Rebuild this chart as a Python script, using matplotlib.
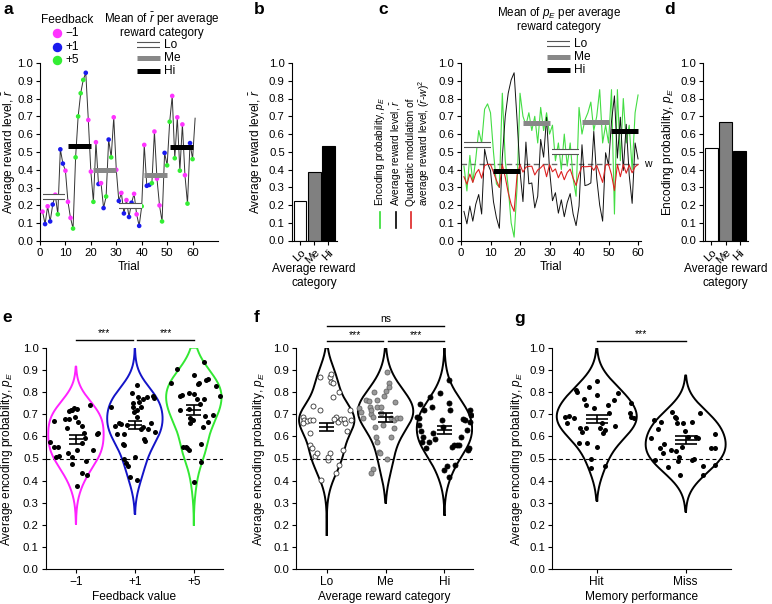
import numpy as np
import matplotlib
matplotlib.use('Agg')
import matplotlib.pyplot as plt
from matplotlib.lines import Line2D

plt.rcParams['font.family'] = ['Liberation Sans', 'DejaVu Sans']
plt.rcParams['mathtext.fontset'] = 'custom'
plt.rcParams['mathtext.rm'] = 'Liberation Sans'
plt.rcParams['mathtext.it'] = 'Liberation Sans:italic'
plt.rcParams['axes.unicode_minus'] = True

# ---------------- data ----------------
trials = list(range(1, 61))
reward_level = [0.165, 0.095, 0.195, 0.11, 0.205, 0.26, 0.15, 0.515, 0.435, 0.395,
                0.22, 0.13, 0.07, 0.47, 0.70, 0.83, 0.905, 0.945, 0.68, 0.39,
                0.22, 0.555, 0.32, 0.325, 0.185, 0.25, 0.57, 0.47, 0.695, 0.40,
                0.225, 0.27, 0.155, 0.23, 0.135, 0.215, 0.265, 0.15, 0.085, 0.195,
                0.54, 0.31, 0.315, 0.325, 0.615, 0.35, 0.20, 0.11, 0.495, 0.425,
                0.67, 0.815, 0.465, 0.695, 0.395, 0.655, 0.37, 0.21, 0.55, 0.46]
reward_tail = 0.69
feedback = [-1, 1, -1, 1, 1, -1, 5, 1, 1, -1,
            -1, -1, 5, 5, 5, 5, 5, 1, -1, -1,
            5, -1, 1, -1, 1, 5, 1, 5, -1, -1,
            1, -1, 1, -1, 1, 1, -1, -1, 1, 5,
            -1, 1, 1, 5, -1, -1, -1, 5, 1, 5,
            5, -1, 5, -1, 5, -1, -1, 5, 1, 5]
encoding_prob = [0.42, 0.28, 0.48, 0.33, 0.46, 0.62, 0.55, 0.74, 0.77, 0.72,
                 0.50, 0.32, 0.30, 0.83, 0.45, 0.30, 0.10, 0.02, 0.30, 0.83,
                 0.70, 0.65, 0.72, 0.62, 0.70, 0.55, 0.75, 0.62, 0.72, 0.60,
                 0.65, 0.45, 0.55, 0.40, 0.60, 0.42, 0.55, 0.35, 0.25, 0.75,
                 0.60, 0.68, 0.72, 0.78, 0.62, 0.70, 0.85, 0.55, 0.65, 0.55,
                 0.85, 0.15, 0.85, 0.45, 0.80, 0.55, 0.65, 0.40, 0.72, 0.82]
quad_mod = [0.360, 0.318, 0.375, 0.328, 0.379, 0.401, 0.352, 0.423, 0.430, 0.429,
            0.386, 0.340, 0.300, 0.428, 0.357, 0.270, 0.204, 0.165, 0.368, 0.428,
            0.386, 0.414, 0.418, 0.419, 0.370, 0.398, 0.410, 0.428, 0.360, 0.429,
            0.388, 0.404, 0.354, 0.390, 0.343, 0.384, 0.403, 0.352, 0.311, 0.375,
            0.418, 0.416, 0.417, 0.419, 0.396, 0.424, 0.377, 0.328, 0.426, 0.430,
            0.372, 0.282, 0.429, 0.360, 0.429, 0.380, 0.426, 0.382, 0.416, 0.429]
w_level = 0.43

block_cat = ['Lo', 'Hi', 'Me', 'Lo', 'Me', 'Hi']
block_start = [1, 11, 21, 31, 41, 51]
block_end = [10, 20, 30, 40, 50, 60]
block_mean_r = [0.25, 0.535, 0.40, 0.195, 0.37, 0.53]
block_mean_pe = [0.54, 0.39, 0.66, 0.50, 0.67, 0.62]

categories = ['Lo', 'Me', 'Hi']
mean_r_cat = [0.225, 0.385, 0.535]
mean_pe_cat = [0.52, 0.665, 0.505]

fb_labels = ['\u22121', '+1', '+5']
e_vals = [
    [0.576, 0.671, 0.550, 0.553, 0.508, 0.513, 0.678, 0.636, 0.678, 0.714, 0.719, 0.726,
     0.725, 0.689, 0.666, 0.648, 0.617, 0.592, 0.526, 0.508, 0.475, 0.538, 0.571, 0.490,
     0.436, 0.427, 0.377, 0.741, 0.538, 0.611, 0.614, 0.719],
    [0.734, 0.648, 0.611, 0.662, 0.654, 0.611, 0.565, 0.559, 0.500, 0.478, 0.466, 0.651,
     0.418, 0.752, 0.794, 0.734, 0.711, 0.505, 0.403, 0.832, 0.719, 0.686, 0.776, 0.756,
     0.731, 0.770, 0.776, 0.641, 0.633, 0.586, 0.579, 0.659, 0.782, 0.773, 0.621, 0.633],
    [0.842, 0.905, 0.719, 0.782, 0.786, 0.550, 0.553, 0.546, 0.538, 0.794, 0.722, 0.681,
     0.662, 0.674, 0.395, 0.791, 0.875, 0.767, 0.836, 0.842, 0.746, 0.564, 0.484, 0.644,
     0.767, 0.854, 0.857, 0.666, 0.937, 0.696, 0.827, 0.783, 0.692]]
e_jitter = [
    [-0.44, -0.37, -0.37, -0.30, -0.33, -0.28, -0.18, -0.15, -0.12, -0.11, -0.08, -0.03,
     0.01, -0.02, 0.04, 0.11, 0.14, 0.16, -0.13, -0.07, -0.06, 0.02, 0.10, 0.17,
     0.10, 0.19, 0.01, 0.24, 0.29, 0.35, 0.38, -0.06],
    [-0.40, -0.33, -0.31, -0.27, -0.23, -0.19, -0.20, -0.18, -0.19, -0.15, -0.11, -0.14,
     -0.08, -0.04, -0.05, -0.03, -0.02, 0.00, 0.03, 0.03, 0.04, 0.03, 0.06, 0.07,
     0.11, 0.14, 0.20, 0.14, 0.11, 0.16, 0.18, 0.27, 0.30, 0.32, 0.34, 0.22],
    [-0.38, -0.28, -0.24, -0.23, -0.20, -0.19, -0.14, -0.12, -0.08, -0.08, -0.08, -0.07,
     -0.06, -0.01, 0.00, 0.00, 0.01, 0.05, 0.07, 0.09, 0.10, 0.12, 0.13, 0.15,
     0.17, 0.21, 0.24, 0.24, 0.17, 0.33, 0.38, 0.44, 0.19]]
e_mean = [0.586, 0.651, 0.719]
e_sem = [0.019, 0.019, 0.023]
e_range = [(0.205, 0.915), (0.25, 1.0), (0.20, 1.0)]

f_vals = [
    [0.689, 0.674, 0.671, 0.674, 0.674, 0.659, 0.617, 0.561, 0.546, 0.737, 0.511, 0.523,
     0.719, 0.869, 0.403, 0.869, 0.847, 0.881, 0.839, 0.776, 0.800, 0.689, 0.666, 0.678,
     0.677, 0.677, 0.662, 0.626, 0.538, 0.471, 0.433, 0.493, 0.508, 0.523, 0.719, 0.674],
    [0.726, 0.711, 0.681, 0.764, 0.761, 0.734, 0.700, 0.718, 0.689, 0.800, 0.764, 0.734,
     0.644, 0.598, 0.576, 0.531, 0.523, 0.451, 0.436, 0.734, 0.782, 0.806, 0.842, 0.892,
     0.821, 0.500, 0.681, 0.674, 0.681, 0.681, 0.598, 0.636, 0.756, 0.651, 0.706],
    [0.689, 0.684, 0.651, 0.744, 0.626, 0.576, 0.598, 0.719, 0.546, 0.576, 0.776, 0.734,
     0.614, 0.586, 0.794, 0.674, 0.644, 0.448, 0.466, 0.418, 0.854, 0.749, 0.553, 0.559,
     0.471, 0.559, 0.559, 0.598, 0.677, 0.674, 0.629, 0.538, 0.546, 0.666, 0.719, 0.698, 0.719]]
f_jitter = [
    [-0.41, -0.38, -0.34, -0.28, -0.23, -0.41, -0.29, -0.29, -0.25, -0.24, -0.20, -0.16,
     -0.12, -0.12, -0.10, 0.05, 0.07, 0.08, 0.11, 0.10, 0.20, 0.16, 0.19, 0.12,
     0.25, 0.29, 0.31, 0.35, 0.27, 0.21, 0.16, 0.03, 0.03, 0.06, 0.40, 0.42],
    [-0.45, -0.41, -0.38, -0.33, -0.29, -0.27, -0.24, -0.24, -0.21, -0.20, -0.15, -0.14,
     -0.18, -0.16, -0.14, -0.12, -0.10, -0.22, -0.24, -0.07, -0.03, 0.01, 0.05, 0.03,
     0.06, 0.02, 0.10, 0.14, 0.19, 0.24, 0.10, 0.14, 0.16, -0.04, -0.08],
    [-0.47, -0.44, -0.43, -0.41, -0.40, -0.38, -0.36, -0.34, -0.31, -0.27, -0.24, -0.21,
     -0.19, -0.16, -0.07, -0.05, -0.02, -0.01, 0.04, 0.07, 0.08, 0.08, 0.12, 0.16,
     0.18, 0.21, 0.25, 0.28, 0.31, 0.35, 0.38, 0.40, 0.41, 0.43, 0.44, 0.45, 0.10]]
f_mean = [0.644, 0.686, 0.629]
f_sem = [0.018, 0.020, 0.019]
f_range = [(0.155, 1.0), (0.30, 1.0), (0.245, 1.0)]

mem_labels = ['Hit', 'Miss']
g_vals = [
    [0.689, 0.692, 0.681, 0.662, 0.809, 0.800, 0.568, 0.636, 0.621, 0.767, 0.741, 0.636,
     0.568, 0.824, 0.456, 0.498, 0.729, 0.553, 0.850, 0.786, 0.636, 0.614, 0.630, 0.468,
     0.741, 0.707, 0.764, 0.648, 0.797, 0.704, 0.752, 0.689, 0.681, 0.659],
    [0.674, 0.594, 0.493, 0.632, 0.549, 0.666, 0.523, 0.564, 0.460, 0.538, 0.711, 0.689,
     0.681, 0.659, 0.489, 0.508, 0.426, 0.553, 0.659, 0.626, 0.598, 0.666, 0.493, 0.500,
     0.596, 0.594, 0.707, 0.466, 0.426, 0.549, 0.549, 0.611, 0.471, 0.534]]
g_jitter = [
    [-0.36, -0.31, -0.26, -0.34, -0.23, -0.22, -0.20, -0.19, -0.17, -0.14, -0.12, -0.12,
     -0.11, -0.09, -0.07, -0.06, -0.03, 0.00, 0.00, 0.00, 0.04, 0.07, 0.09, 0.09,
     0.13, 0.14, 0.19, 0.20, 0.24, 0.37, 0.39, 0.39, 0.42, 0.06],
    [-0.36, -0.39, -0.35, -0.31, -0.29, -0.28, -0.25, -0.24, -0.20, -0.16, -0.15, -0.12,
     -0.11, -0.10, -0.09, -0.08, -0.06, -0.04, -0.03, -0.01, 0.03, 0.07, 0.07, 0.09,
     0.12, 0.14, 0.16, 0.20, 0.20, 0.29, 0.33, 0.33, 0.33, -0.11]]
g_mean = [0.680, 0.583]
g_sem = [0.018, 0.018]
g_range = [(0.31, 1.0), (0.26, 0.875)]

# ---------------- styling ----------------
MAG = '#ff33ff'
BLU = '#1a1aee'
GRN = '#33ee33'
fb_color = {-1: MAG, 1: BLU, 5: GRN}
violin_colors = ['#ff22ff', '#1414c8', '#33e833']
TICK_FS = 8.2
LAB_FS = 8.6

W, H = 772, 604
fig = plt.figure(figsize=(7.72, 6.04), dpi=100)


def fx(x):
    return x / W


def fy(y):
    return 1 - y / H


def add_ax(l, t, r, b):
    ax = fig.add_axes([l / W, 1 - b / H, (r - l) / W, (b - t) / H])
    ax._px = (l, t, r, b)
    for s in ['top', 'right']:
        ax.spines[s].set_visible(False)
    for s in ['left', 'bottom']:
        ax.spines[s].set_linewidth(0.8)
    ax.tick_params(direction='out', length=3, width=0.8, labelsize=TICK_FS, pad=2)
    ax.set_ylim(0, 1)
    yt = np.round(np.arange(0, 1.01, 0.1), 1)
    ax.set_yticks(yt)
    ax.set_yticklabels([f'{v:.1f}' for v in yt])
    return ax


def ylab(ax, text, xpx, size=LAB_FS):
    l, t, r, b = ax._px
    ax.set_ylabel(text, fontsize=size, va='center', ha='center')
    ax.yaxis.set_label_coords((xpx - l) / (r - l), 0.5)


def xlab(ax, text, ypx, size=LAB_FS, xpx=None):
    l, t, r, b = ax._px
    ax.set_xlabel(text, fontsize=size, va='center', ha='center', linespacing=1.25)
    xc = 0.5 if xpx is None else (xpx - l) / (r - l)
    ax.xaxis.set_label_coords(xc, (b - ypx) / (b - t))


def cat_line(target, x0, x1, y, cat, is_fig=False):
    if cat == 'Lo':
        specs = [('#555555', 4.4, 5), ('white', 2.8, 6)]
    elif cat == 'Me':
        specs = [('#888888', 3.6, 5)]
    else:
        specs = [('black', 3.6, 5)]
    for col, lw, z in specs:
        if is_fig:
            target.add_artist(Line2D([x0, x1], [y, y], color=col, lw=lw, zorder=z,
                                     solid_capstyle='butt', transform=target.transFigure))
        else:
            target.plot([x0, x1], [y, y], color=col, lw=lw, zorder=z,
                        solid_capstyle='butt', clip_on=False)


def panel_label(x, y, s):
    fig.text(fx(x), fy(y), s, fontsize=12.5, fontweight='bold', ha='left', va='center')


def cat_legend(x0, x1, xt, ys):
    for cat, y in zip(['Lo', 'Me', 'Hi'], ys):
        cat_line(fig, fx(x0), fx(x1), fy(y), cat, is_fig=True)
        fig.text(fx(xt), fy(y), cat, fontsize=LAB_FS, ha='left', va='center')

# ---------------- panel a ----------------
axa = add_ax(40, 63, 218, 241)
axa.set_xlim(0, 70)
axa.set_xticks(range(0, 61, 10))
axa.plot(trials + [61], reward_level + [reward_tail], color='#333333', lw=0.7, zorder=2)
axa.scatter(trials, reward_level, c=[fb_color[f] for f in feedback], s=11, lw=0, zorder=3)
for s0, s1, v, c in zip(block_start, block_end, block_mean_r, block_cat):
    cat_line(axa, s0, s1, v, c)
ylab(axa, 'Average reward level, $\\bar{r}$', 9)
xlab(axa, 'Trial', 267)

fig.text(fx(66.7), fy(20), 'Feedback', fontsize=LAB_FS, ha='center', va='center')
for lab, f, y in zip(fb_labels, [-1, 1, 5], [33.3, 46.7, 60]):
    fig.add_artist(Line2D([fx(57.3)], [fy(y)], marker='o', ms=5.8, color=fb_color[f], lw=0,
                          transform=fig.transFigure))
    fig.text(fx(65.5), fy(y), lab, fontsize=LAB_FS, ha='left', va='center')
fig.text(fx(162), fy(19), 'Mean of $\\bar{r}$ per average', fontsize=8.4, ha='center', va='center')
fig.text(fx(162), fy(33), 'reward category', fontsize=8.4, ha='center', va='center')
cat_legend(136.7, 160, 164, [45, 57.8, 70.5])

# ---------------- panel b ----------------
axb = add_ax(291.7, 63, 336.7, 240.5)
xb = np.arange(len(categories))
axb.bar(xb, mean_r_cat, width=0.9, color=['white', '#808080', 'black'], edgecolor='black', lw=0.8)
axb.set_xlim(-0.6, 2.6)
axb.set_xticks(xb)
axb.set_xticklabels(categories, rotation=45, ha='right', va='top', rotation_mode='anchor')
ylab(axb, 'Average reward level, $\\bar{r}$', 256)
xlab(axb, 'Average reward\ncategory', 276)

# ---------------- panel c ----------------
axc = add_ax(461, 63, 641, 240.7)
axc.set_xlim(0, 61)
axc.set_xticks(range(0, 61, 10))
axc.plot([0, 60], [w_level, w_level], color='#666666', lw=1.0, ls=(0, (4, 2.5)), zorder=1)
axc.text(62, w_level, 'w', fontsize=7.5, ha='left', va='center')
axc.plot(trials, encoding_prob, color='#44dd44', lw=0.8, zorder=2)
axc.plot(trials, reward_level, color='#111111', lw=0.7, zorder=3)
axc.plot(trials, quad_mod, color='#dd2222', lw=0.8, zorder=3)
for s0, s1, v, c in zip(block_start, block_end, block_mean_pe, block_cat):
    cat_line(axc, s0, s1, v, c)
xlab(axc, 'Trial', 267)

leg_items = [(380, '#33dd33', ['Encoding probability, $p_E$']),
             (396, 'black', ['Average reward level, $\\bar{r}$']),
             (410.7, '#dd2222', ['Quadratic modulation of',
                                 'average reward level, $(\\bar{r}$-$w)^2$'])]
for x, col, texts in leg_items:
    fig.add_artist(Line2D([fx(x), fx(x)], [fy(212), fy(228)], color=col, lw=1.2,
                          transform=fig.transFigure))
    for k, t in enumerate(texts):
        fig.text(fx(x + 13.5 * k), fy(206), t, fontsize=7.3, rotation=90, ha='left', va='center',
                 rotation_mode='anchor')
fig.text(fx(559), fy(12.8), 'Mean of $p_E$ per average', fontsize=8.4, ha='center', va='center')
fig.text(fx(559), fy(27), 'reward category', fontsize=8.4, ha='center', va='center')
cat_legend(546.7, 570, 574, [44.3, 57.3, 70])

# ---------------- panel d ----------------
axd = add_ax(703, 63, 748, 240.5)
axd.bar(xb, mean_pe_cat, width=0.9, color=['white', '#808080', 'black'], edgecolor='black', lw=0.8)
axd.set_xlim(-0.6, 2.6)
axd.set_xticks(xb)
axd.set_xticklabels(categories, rotation=45, ha='right', va='top', rotation_mode='anchor')
ylab(axd, 'Encoding probability, $p_E$', 668)
xlab(axd, 'Average reward\ncategory', 276)

# ---------------- violin helpers ----------------


def violin(ax, c, vals, rng, hw, color, bw=0.07):
    y = np.linspace(rng[0], rng[1], 400)
    v = np.asarray(vals)
    d = np.exp(-0.5 * ((y[:, None] - v[None, :]) / bw) ** 2).sum(1)
    w = d / d.max() * hw
    xs = np.concatenate([c + w, (c - w)[::-1], [c + w[0]]])
    ys = np.concatenate([y, y[::-1], [y[0]]])
    ax.plot(xs, ys, color=color, lw=1.4, solid_joinstyle='round', zorder=2)


def mean_sem(ax, c, m, s, hw=0.125):
    ax.hlines([m - s, m, m + s], c - hw, c + hw, color='black', lw=1.2, zorder=4)
    ax.vlines(c, m - s, m + s, color='black', lw=1.2, zorder=4)


def sig(ax, x0, x1, y, txt):
    ax.plot([x0, x1], [y, y], color='black', lw=1.0, clip_on=False)
    ax.text((x0 + x1) / 2, y + 0.008, txt, ha='center', va='bottom', fontsize=7.5, clip_on=False)


def half_line(ax):
    ax.axhline(0.5, color='black', lw=0.8, ls=(0, (3.5, 2.5)), zorder=1)

# ---------------- panel e ----------------
axe = add_ax(45.7, 347.7, 222.7, 569.3)
axe.set_xlim(0.487, 3.49)
half_line(axe)
for i in range(3):
    c = i + 1
    violin(axe, c, e_vals[i], e_range[i], 0.47, violin_colors[i])
    axe.scatter(c + np.asarray(e_jitter[i]), e_vals[i], s=13, color='black', lw=0, zorder=3)
    mean_sem(axe, c, e_mean[i], e_sem[i])
axe.set_xticks([1, 2, 3])
axe.set_xticklabels(fb_labels, fontsize=LAB_FS)
sig(axe, 1, 1.96, 1.035, '***')
sig(axe, 2.04, 3, 1.035, '***')
ylab(axe, 'Average encoding probability, $p_E$', 7)
xlab(axe, 'Feedback value', 597)

# ---------------- panel f ----------------
axf = add_ax(296, 347.7, 473.3, 569.3)
axf.set_xlim(0.478, 3.49)
half_line(axf)
f_face = ['white', '#999999', 'black']
f_edge = ['#333333', '#666666', 'black']
for i in range(3):
    c = i + 1
    violin(axf, c, f_vals[i], f_range[i], 0.47, 'black')
    axf.scatter(c + np.asarray(f_jitter[i]), f_vals[i], s=13, facecolor=f_face[i],
                edgecolor=f_edge[i], lw=0.6, zorder=3)
    mean_sem(axf, c, f_mean[i], f_sem[i])
axf.set_xticks([1, 2, 3])
axf.set_xticklabels(categories, fontsize=LAB_FS)
sig(axf, 1, 1.96, 1.028, '***')
sig(axf, 2.04, 3, 1.028, '***')
sig(axf, 1, 3, 1.1, 'ns')
ylab(axf, 'Average encoding probability, $p_E$', 259)
xlab(axf, 'Average reward category', 597)

# ---------------- panel g ----------------
axg = add_ax(552.3, 347.7, 731, 569.3)
axg.set_xlim(0.5, 2.51)
half_line(axg)
for i in range(2):
    c = i + 1
    violin(axg, c, g_vals[i], g_range[i], 0.45, 'black')
    axg.scatter(c + np.asarray(g_jitter[i]), g_vals[i], s=13, color='black', lw=0, zorder=3)
    mean_sem(axg, c, g_mean[i], g_sem[i], hw=0.125)
axg.set_xticks([1, 2])
axg.set_xticklabels(mem_labels, fontsize=LAB_FS)
sig(axg, 1, 2, 1.03, '***')
ylab(axg, 'Average encoding probability, $p_E$', 517)
xlab(axg, 'Memory performance', 597)

# ---------------- panel labels ----------------
panel_label(3, 9, 'a')
panel_label(254, 9, 'b')
panel_label(378, 9, 'c')
panel_label(664, 9, 'd')
panel_label(2, 317, 'e')
panel_label(254, 317, 'f')
panel_label(514, 319, 'g')

fig.savefig('out.png', dpi=100)
